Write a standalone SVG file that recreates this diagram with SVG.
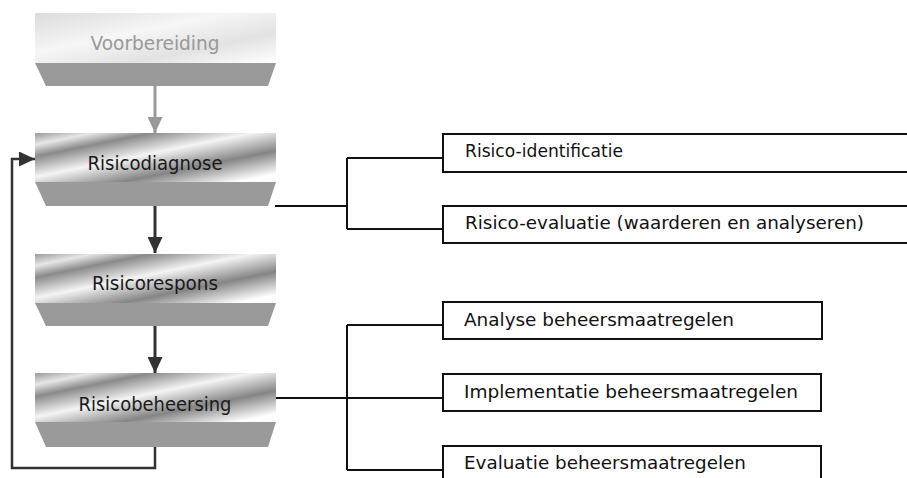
<svg xmlns="http://www.w3.org/2000/svg" width="907" height="478" viewBox="0 0 907 478">
  <defs>
    <!-- metallic face of the process steps -->
    <linearGradient id="metal" x1="0" y1="0" x2="1" y2="1">
      <stop offset="0" stop-color="#9a9a9a"/>
      <stop offset="0.12" stop-color="#e6e6e6"/>
      <stop offset="0.24" stop-color="#8a8a8a"/>
      <stop offset="0.45" stop-color="#f4f4f4"/>
      <stop offset="0.68" stop-color="#858585"/>
      <stop offset="0.92" stop-color="#ffffff"/>
      <stop offset="1" stop-color="#fafafa"/>
    </linearGradient>
    <!-- pale face of the inactive first step -->
    <linearGradient id="pale" x1="0" y1="0" x2="1" y2="1">
      <stop offset="0" stop-color="#dcdcdc"/>
      <stop offset="0.4" stop-color="#f6f6f6"/>
      <stop offset="0.7" stop-color="#e2e2e2"/>
      <stop offset="1" stop-color="#ffffff"/>
    </linearGradient>
    <marker id="headDark" viewBox="0 0 16 15" refX="16" refY="7.5" markerWidth="16" markerHeight="15" markerUnits="userSpaceOnUse" orient="auto">
      <path d="M0,0 L16,7.5 L0,15 Z" fill="#333333"/>
    </marker>
    <marker id="headGray" viewBox="0 0 16 15" refX="16" refY="7.5" markerWidth="16" markerHeight="15" markerUnits="userSpaceOnUse" orient="auto">
      <path d="M0,0 L16,7.5 L0,15 Z" fill="#999999"/>
    </marker>
  </defs>
  <style>
    .face { fill: url(#metal); }
    .faceOff { fill: url(#pale); }
    .base { fill: #9a9a9a; }
    .step { font-family: "DejaVu Sans", Verdana, sans-serif; font-size: 19px; fill: #1a1a1a; text-anchor: middle; }
    .stepOff { fill: #999999; }
    .box { fill: #ffffff; stroke: #111111; stroke-width: 2; }
    .item { font-family: "DejaVu Sans", Verdana, sans-serif; font-size: 17px; fill: #111111; }
    .flow { fill: none; stroke: #333333; stroke-width: 3; }
    .flowOff { fill: none; stroke: #999999; stroke-width: 3; }
    .loop { fill: none; stroke: #333333; stroke-width: 2.5; }
    .tree { fill: none; stroke: #111111; stroke-width: 2; }
  </style>

  <rect width="907" height="478" fill="#ffffff"/>

  <!-- connectors -->
  <g id="connectors">
    <line class="flowOff" x1="155" y1="86" x2="155" y2="133" marker-end="url(#headGray)"/>
    <line class="flow" x1="155" y1="206" x2="155" y2="253" marker-end="url(#headDark)"/>
    <line class="flow" x1="155" y1="326" x2="155" y2="373" marker-end="url(#headDark)"/>
    <path class="loop" d="M155,447 V468 H12 V159 H35" marker-end="url(#headDark)"/>
    <path class="tree" d="M275,206 H347 M347,158 V229 M347,158 H443 M347,229 H443"/>
    <path class="tree" d="M275,398 H443 M347,325 V470 M347,325 H443 M347,470 H443"/>
  </g>

  <!-- process steps -->
  <g id="voorbereiding">
    <rect class="faceOff" x="35" y="13" width="241" height="50"/>
    <polygon class="base" points="35,63 276,63 268,86 46,86"/>
    <text class="step stepOff" x="155" y="50" textLength="129" lengthAdjust="spacingAndGlyphs">Voorbereiding</text>
  </g>
  <g id="risicodiagnose">
    <rect class="face" x="35" y="133" width="241" height="49"/>
    <polygon class="base" points="35,182 276,182 268,206 46,206"/>
    <text class="step" x="155" y="170" textLength="135" lengthAdjust="spacingAndGlyphs">Risicodiagnose</text>
  </g>
  <g id="risicorespons">
    <rect class="face" x="35" y="254" width="241" height="49"/>
    <polygon class="base" points="35,303 276,303 268,326 46,326"/>
    <text class="step" x="155" y="290" textLength="126" lengthAdjust="spacingAndGlyphs">Risicorespons</text>
  </g>
  <g id="risicobeheersing">
    <rect class="face" x="35" y="373" width="241" height="49"/>
    <polygon class="base" points="35,422 276,422 268,447 46,447"/>
    <text class="step" x="155" y="411" textLength="153" lengthAdjust="spacingAndGlyphs">Risicobeheersing</text>
  </g>

  <!-- sub-activities -->
  <g id="risico-identificatie">
    <rect class="box" x="443" y="134" width="480" height="38"/>
    <text class="item" x="465" y="157" textLength="158" lengthAdjust="spacingAndGlyphs">Risico-identificatie</text>
  </g>
  <g id="risico-evaluatie">
    <rect class="box" x="443" y="206" width="480" height="37"/>
    <text class="item" x="465" y="229" textLength="399" lengthAdjust="spacingAndGlyphs">Risico-evaluatie (waarderen en analyseren)</text>
  </g>
  <g id="analyse">
    <rect class="box" x="443" y="302" width="379" height="37"/>
    <text class="item" x="464" y="326" textLength="270" lengthAdjust="spacingAndGlyphs">Analyse beheersmaatregelen</text>
  </g>
  <g id="implementatie">
    <rect class="box" x="443" y="374" width="378" height="37"/>
    <text class="item" x="464" y="398" textLength="334" lengthAdjust="spacingAndGlyphs">Implementatie beheersmaatregelen</text>
  </g>
  <g id="evaluatie">
    <rect class="box" x="443" y="446" width="378" height="50"/>
    <text class="item" x="464" y="469" textLength="282" lengthAdjust="spacingAndGlyphs">Evaluatie beheersmaatregelen</text>
  </g>
</svg>
